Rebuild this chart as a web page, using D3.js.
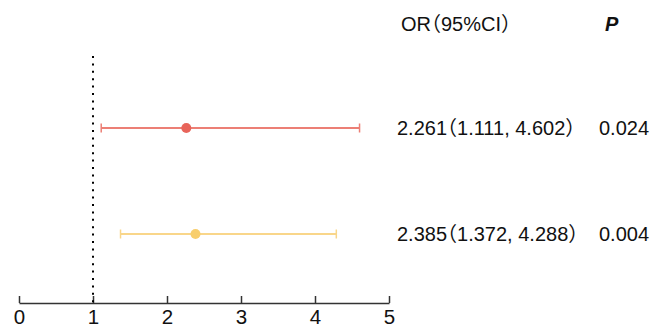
<!DOCTYPE html>
<html><head><meta charset="utf-8">
<script src="https://cdn.jsdelivr.net/npm/d3@7"></script>
<style>body{margin:0;background:#fff}svg{display:block}text{font-family:"Liberation Sans","Noto Sans CJK SC",Arial,sans-serif;font-feature-settings:"halt" 1;}</style>
</head><body><svg id="c" width="652" height="327"></svg>
<script>
const labels = ["2.261（1.111, 4.602）", "2.385（1.372, 4.288）"];
const orValues = [2.261, 2.385];
const lowerCI = [1.111, 1.372];
const upperCI = [4.602, 4.288];
const pValues = ["0.024", "0.004"];
const colors = ["#E8645A", "#F8CE6C"];
const lineColors = ["#EC7F75", "#F9D68A"];
const xTicks = [0, 1, 2, 3, 4, 5];
const refLine = 1;

const svg = d3.select("#c");
const x = d3.scaleLinear().domain([0, 5]).range([19, 389]);
const y = d3.scalePoint().domain(d3.range(labels.length)).range([128, 234]);

// axis
const ax = svg.append("g").attr("transform", "translate(0,303)")
  .call(d3.axisTop(x).tickValues(xTicks).tickSize(7).tickSizeOuter(0).tickFormat(d3.format("d")));
ax.select(".domain").attr("stroke", "#333").attr("stroke-width", 1.5);
ax.selectAll(".tick line").attr("stroke", "#333").attr("stroke-width", 1.5);
ax.selectAll(".tick text").attr("y", 20.5).attr("dy", null).attr("font-size", 20.5).attr("fill", "#111")
  .style("font-family", '"Liberation Sans",Arial,sans-serif');

// reference line
svg.append("line").attr("x1", x(refLine)).attr("x2", x(refLine)).attr("y1", 56).attr("y2", 303)
  .attr("stroke", "#000").attr("stroke-width", 2).attr("stroke-dasharray", "2 5.4");

const rows = svg.append("g").selectAll("g").data(d3.range(labels.length)).join("g");
rows.append("line").attr("x1", i => x(lowerCI[i])).attr("x2", i => x(upperCI[i]))
  .attr("y1", i => y(i)).attr("y2", i => y(i)).attr("stroke", i => lineColors[i]).attr("stroke-width", 2);
rows.append("line").attr("x1", i => x(lowerCI[i])).attr("x2", i => x(lowerCI[i]))
  .attr("y1", i => y(i) - 4.5).attr("y2", i => y(i) + 4.5).attr("stroke", i => lineColors[i]).attr("stroke-width", 1.5);
rows.append("line").attr("x1", i => x(upperCI[i])).attr("x2", i => x(upperCI[i]))
  .attr("y1", i => y(i) - 4.5).attr("y2", i => y(i) + 4.5).attr("stroke", i => lineColors[i]).attr("stroke-width", 1.5);
rows.append("circle").attr("cx", i => x(orValues[i])).attr("cy", i => y(i)).attr("r", 5).attr("fill", i => colors[i]);
rows.append("text").attr("x", 397).attr("y", i => y(i) + 6.5).attr("font-size", 20).attr("fill", "#111").text(i => labels[i]);
rows.append("text").attr("x", 599).attr("y", i => y(i) + 6.5).attr("font-size", 20).attr("fill", "#111").text(i => pValues[i]);

svg.append("text").attr("x", 401).attr("y", 31).attr("font-size", 20).attr("fill", "#111").text("OR（95%CI）");
svg.append("text").attr("x", 605).attr("y", 31).attr("font-size", 20).attr("font-weight", "bold").attr("font-style", "italic").attr("fill", "#111").text("P");
</script></body></html>
